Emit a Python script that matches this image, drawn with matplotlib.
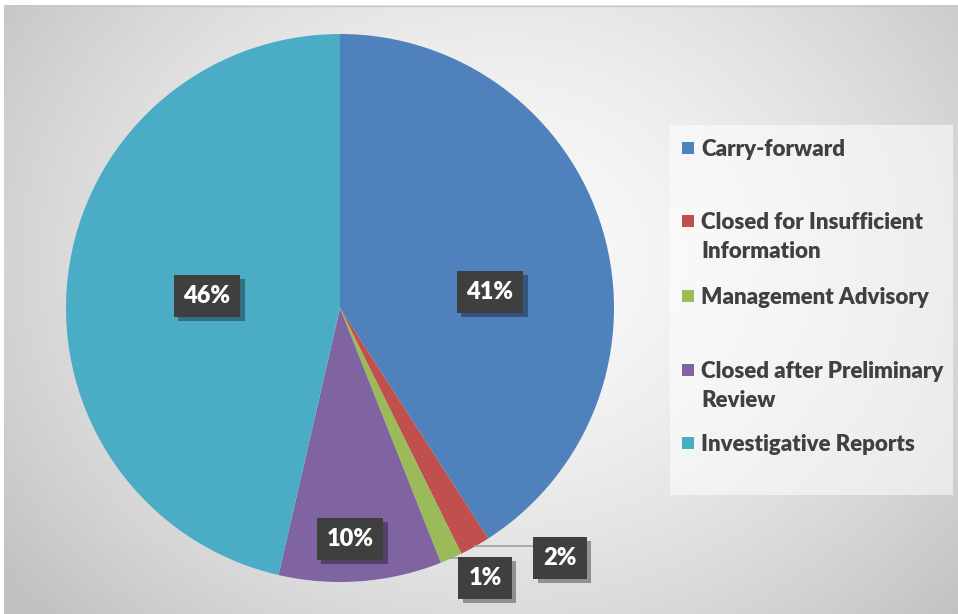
import numpy as np
import matplotlib
matplotlib.use("Agg")
import matplotlib.pyplot as plt
from matplotlib.patches import Rectangle
import matplotlib.patheffects as pe

# ---- data ----
categories = ["Carry-forward", "Closed for Insufficient\nInformation", "Management Advisory",
              "Closed after Preliminary\nReview", "Investigative Reports"]
shares = [40.9, 1.8, 1.3, 9.6, 46.4]
colors = ["#4F81BD", "#C0504D", "#9BBB59", "#8064A2", "#4BACC6"]

# ---- style / layout ----
W, H = 958, 614
cx, cy, R = 340, 308, 274
label_pos_px = [(490, 292), (560, 558), (485, 578), (350, 539), (207, 296)]
legend_first_line_px = [148, 221, 296, 370, 443]
LINE_STEP = 29
FONT = ["Lato", "DejaVu Sans"]

fig = plt.figure(figsize=(W / 100, H / 100), dpi=100)

# background radial gradient
bg = fig.add_axes([0, 0, 1, 1], zorder=0)
yy, xx = np.mgrid[0:H, 0:W]
d = np.sqrt(((xx - 500) / 620.0) ** 2 + ((yy - 260) / 520.0) ** 2)
d = np.clip(d, 0, 1)
val = 0.98 - 0.22 * d ** 1.6
img = np.dstack([val, val, val])
bg.imshow(img, extent=[0, W, H, 0], aspect="auto")
bg.set_xlim(0, W)
bg.set_ylim(H, 0)
bg.axis("off")
# white margins at top/left
bg.add_patch(Rectangle((0, 0), W, 5, color="white", lw=0))
bg.add_patch(Rectangle((0, 0), 4, H, color="white", lw=0))
bg.plot([4, W], [5.5, 5.5], color="#c8c8c8", lw=1)

# legend box
bg.add_patch(Rectangle((670, 125), 283, 370, facecolor="white", alpha=0.55, lw=0))
for cat, col, ly in zip(categories, colors, legend_first_line_px):
    bg.add_patch(Rectangle((682, ly - 6), 12, 12, facecolor=col, lw=0))
    for k, line in enumerate(cat.split("\n")):
        bg.text(701, ly + 8 + k * LINE_STEP, line, fontsize=16, fontweight="heavy",
                color="#404040", family=FONT, va="baseline", ha="left")

# pie
ax = fig.add_axes([(cx - R) / W, 1 - (cy + R) / H, 2 * R / W, 2 * R / H], zorder=1)
wedges, _ = ax.pie(shares, colors=colors, startangle=90, counterclock=False,
                   radius=1.0, wedgeprops=dict(linewidth=0))
ax.set_xlim(-1, 1)
ax.set_ylim(-1, 1)
ax.set_aspect("equal")
ax.axis("off")

def px2ax(px, py):
    return ((px - cx) / R, (cy - py) / R)

# leader lines for small slices
for i, (lx, ly) in zip([1, 2], [(536, 546), (463, 557)]):
    w = wedges[i]
    mid = np.deg2rad((w.theta1 + w.theta2) / 2)
    ex, ey = np.cos(mid), np.sin(mid)
    ax.plot([ex, px2ax(lx, ly)[0]], [ey, ey], color="#a0a0a0", lw=1.2, zorder=2)

# data labels
for s, (px, py) in zip(shares, label_pos_px):
    x, y = px2ax(px, py)
    t = ax.text(x, y, f"{round(s):.0f}%", ha="center", va="center", fontsize=17,
                fontweight="heavy", color="white", family=FONT, zorder=5,
                bbox=dict(boxstyle="square,pad=0.42", facecolor="#3f3f3f", edgecolor="none"))
    t.get_bbox_patch().set_path_effects([
        pe.withSimplePatchShadow(offset=(3, -3), shadow_rgbFace="black", alpha=0.35)])

fig.savefig("out.png", dpi=100)
